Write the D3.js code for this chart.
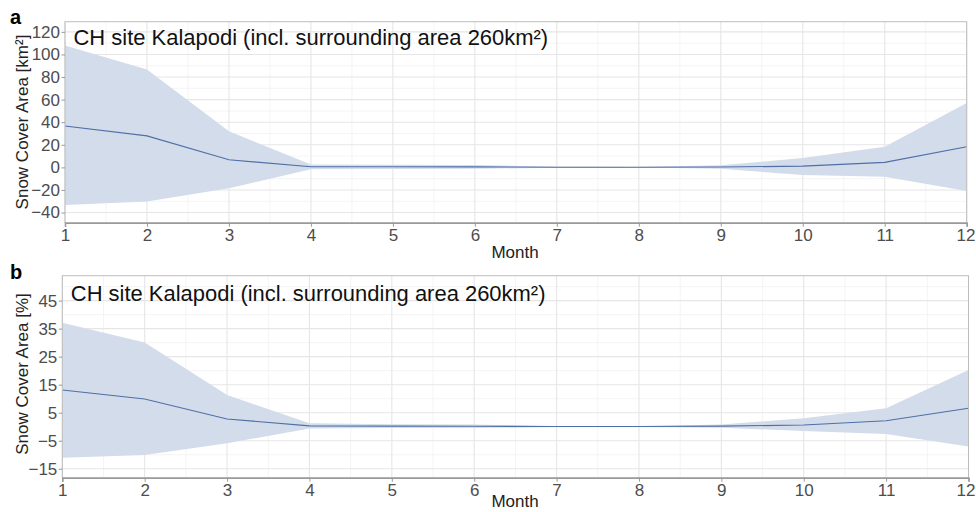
<!DOCTYPE html>
<html><head><meta charset="utf-8">
<script src="https://cdn.jsdelivr.net/npm/d3@7"></script>
<style>
html,body{margin:0;padding:0;background:#fff;}
svg{display:block;font-family:"Liberation Sans",Arial,sans-serif;}
</style></head>
<body><svg id="c" width="976" height="512"></svg>
<script>
const months = [1,2,3,4,5,6,7,8,9,10,11,12];
const monthTicks = [1,2,3,4,5,6,7,8,9,10,11,12];

const kmMean  = [36.7, 27.9, 6.7, 0.6, 0.5, 0.4, 0.1, 0.1, 0.3, 1.1, 4.4, 18.2];
const kmUpper = [107.9, 86.7, 32.0, 2.6, 2.3, 2.1, 0.5, 0.4, 1.8, 8.2, 18.2, 57.0];
const kmLower = [-33.3, -30.3, -18.5, -1.6, -1.4, -1.3, -0.3, -0.2, -1.2, -6.8, -8.3, -20.9];
const kmTicks = [-40,-20,0,20,40,60,80,100,120];

const pctMean  = [13.1, 9.9, 2.75, 0.3, 0.2, 0.15, 0.05, 0.05, 0.2, 0.6, 2.1, 6.6];
const pctUpper = [37.1, 30.1, 11.3, 1.2, 0.9, 0.8, 0.2, 0.15, 0.8, 3.0, 6.6, 20.2];
const pctLower = [-11.1, -10.1, -5.9, -0.6, -0.5, -0.5, -0.1, -0.1, -0.4, -1.5, -2.6, -7.1];
const pctTicks = [-15,-5,5,15,25,35,45];

const titleText = "CH site Kalapodi (incl. surrounding area 260km²)";

const svg = d3.select("#c");

function panel(o){
  const g = svg.append("g");
  const x = d3.scaleLinear().domain([1,12]).range([o.left,o.right]);
  const y = d3.scaleLinear().domain(o.ydom).range([o.bottom,o.top]);
  const xMinor = d3.range(1.5,12,1);
  const yMinor = o.yMinor.filter(v=>v>o.ydom[0]&&v<o.ydom[1]);
  g.selectAll(".xmin").data(xMinor).join("line")
    .attr("x1",d=>x(d)).attr("x2",d=>x(d)).attr("y1",o.top).attr("y2",o.bottom)
    .attr("stroke","#f1f1f1").attr("stroke-width",0.8);
  g.selectAll(".ymin").data(yMinor).join("line")
    .attr("y1",d=>y(d)).attr("y2",d=>y(d)).attr("x1",o.left).attr("x2",o.right)
    .attr("stroke","#f1f1f1").attr("stroke-width",0.8);
  g.selectAll(".xmaj").data(monthTicks).join("line")
    .attr("x1",d=>x(d)).attr("x2",d=>x(d)).attr("y1",o.top).attr("y2",o.bottom)
    .attr("stroke","#e6e6e6").attr("stroke-width",1.1);
  g.selectAll(".ymaj").data(o.yticks).join("line")
    .attr("y1",d=>y(d)).attr("y2",d=>y(d)).attr("x1",o.left).attr("x2",o.right)
    .attr("stroke","#e6e6e6").attr("stroke-width",1.1);
  const area = d3.area().x((d,i)=>x(months[i])).y0((d,i)=>y(o.lower[i])).y1((d,i)=>y(o.upper[i]));
  g.append("path").attr("d",area(months)).attr("fill","#d3dcea");
  const line = d3.line().x((d,i)=>x(months[i])).y((d,i)=>y(o.mean[i]));
  g.append("path").attr("d",line(months)).attr("fill","none").attr("stroke","#4f6fa6").attr("stroke-width",1.1);
  g.append("rect").attr("x",o.left).attr("y",o.top).attr("width",o.right-o.left).attr("height",o.bottom-o.top)
    .attr("fill","none").attr("stroke","#bdbdbd").attr("stroke-width",1);
  const xa = g.append("g").attr("transform",`translate(0,${o.bottom})`)
    .call(d3.axisBottom(x).tickValues(monthTicks).tickFormat(d3.format("d")).tickSize(4).tickPadding(2));
  xa.select(".domain").attr("stroke","#9a9a9a").attr("stroke-width",1.6);
  xa.selectAll(".tick line").attr("stroke","#9a9a9a");
  xa.selectAll(".tick text").attr("fill","#4d4d4d").attr("font-size",17).attr("font-family","Liberation Sans, Arial, sans-serif");
  xa.selectAll(".tick text").filter(d=>d===12).attr("text-anchor","end").attr("x",976-o.right-1);
  const ya = g.append("g").attr("transform",`translate(${o.left},0)`)
    .call(d3.axisLeft(y).tickValues(o.yticks).tickFormat(d3.format("d")).tickSize(3.5).tickPadding(1.5));
  ya.select(".domain").remove();
  ya.selectAll(".tick line").attr("stroke","#9a9a9a");
  ya.selectAll(".tick text").attr("fill","#4d4d4d").attr("font-size",17).attr("font-family","Liberation Sans, Arial, sans-serif");
  const t = g.append("text").attr("x",o.left+8.5).attr("y",o.titleY).attr("font-size",21).attr("fill","#111").text(titleText);
  const w = t.node().getComputedTextLength();
  t.attr("font-size", 21*475/w);
  g.append("text").attr("x",515).attr("y",o.monthY).attr("text-anchor","middle").attr("font-size",17).attr("fill","#222").text("Month");
  g.append("text").attr("transform",`translate(28,${o.ylabY}) rotate(-90)`).attr("text-anchor","middle")
    .attr("font-size",17).attr("fill","#222").text(o.ylab);
  g.append("text").attr("x",10).attr("y",o.letterY).attr("font-size",20).attr("font-weight","bold").attr("fill","#000").text(o.letter);
}

panel({left:65,right:966.7,top:21.7,bottom:222.7,ydom:[-49,129],yticks:kmTicks,
  yMinor:[-50,-30,-10,10,30,50,70,90,110,130],
  mean:kmMean,upper:kmUpper,lower:kmLower,titleY:44.5,monthY:257.5,ylab:"Snow Cover Area [km²]",ylabY:122,letter:"a",letterY:24});
panel({left:62.3,right:968.5,top:275.7,bottom:477.7,ydom:[-18.2,53.9],yticks:pctTicks,
  yMinor:[-20,-10,0,10,20,30,40,50],
  mean:pctMean,upper:pctUpper,lower:pctLower,titleY:300.5,monthY:507,ylab:"Snow Cover Area [%]",ylabY:374,letter:"b",letterY:279});
</script></body></html>
